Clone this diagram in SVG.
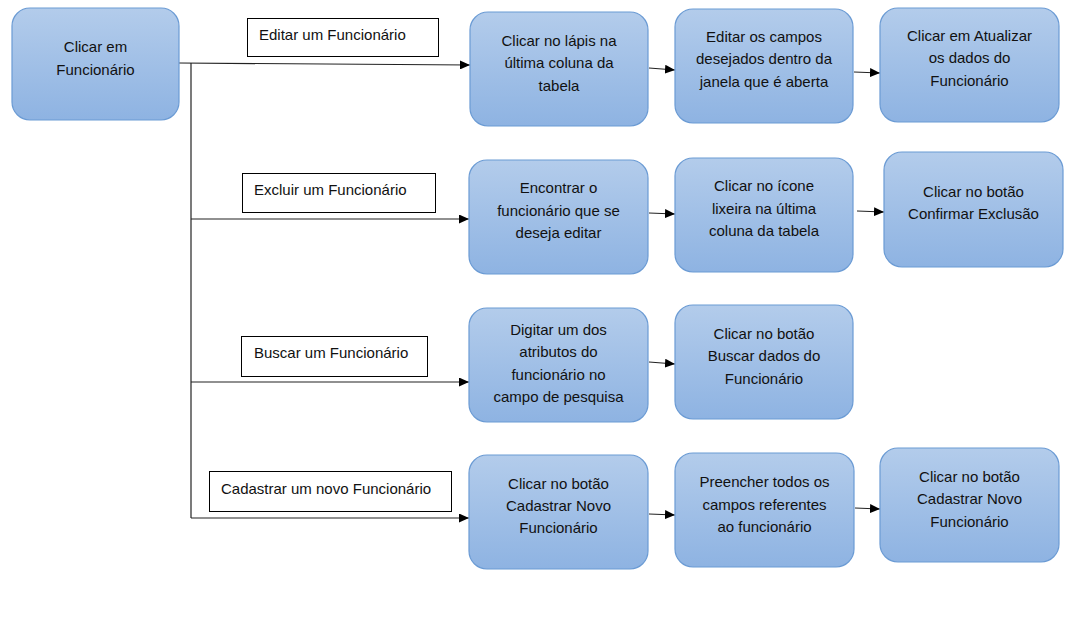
<svg xmlns="http://www.w3.org/2000/svg" width="1081" height="631" viewBox="0 0 1081 631">
<style>
.node rect{fill:url(#g);stroke:#6b9bd4;stroke-width:1.2}
.node text,.lbl text{font-family:"Liberation Sans",Arial,sans-serif;font-size:15px;fill:#111;text-anchor:middle}
.lbl rect{fill:#fff;stroke:#000;stroke-width:1}
.lbl text{text-anchor:start}
.c{stroke:#222;stroke-width:1.2;fill:none}
</style>
<defs>
<linearGradient id="g" x1="0" y1="0" x2="0" y2="1">
<stop offset="0" stop-color="#b3cceb"/>
<stop offset="1" stop-color="#8eb3e2"/>
</linearGradient>
<marker id="a" markerWidth="10" markerHeight="9" refX="10" refY="4.5" orient="auto" markerUnits="userSpaceOnUse">
<path d="M0,0 L10,4.5 L0,9 Z" fill="#000"/>
</marker>
</defs>
<rect width="1081" height="631" fill="#fff"/>
<g id="connectors">
<path class="c" d="M179,63 L470,65" marker-end="url(#a)"/>
<path class="c" d="M191,63 L191,518"/>
<path class="c" d="M191,219 L469,219" marker-end="url(#a)"/>
<path class="c" d="M191,382 L469,382" marker-end="url(#a)"/>
<path class="c" d="M191,518 L469,518" marker-end="url(#a)"/>
<path class="c" d="M649,68 L675,70" marker-end="url(#a)"/>
<path class="c" d="M854,72 L880,73" marker-end="url(#a)"/>
<path class="c" d="M649,213 L675,214" marker-end="url(#a)"/>
<path class="c" d="M857,211 L884,212" marker-end="url(#a)"/>
<path class="c" d="M649,362 L675,364" marker-end="url(#a)"/>
<path class="c" d="M649,514 L675,515" marker-end="url(#a)"/>
<path class="c" d="M855,508 L880,509" marker-end="url(#a)"/>
</g>
<g id="start" class="node"><rect x="12" y="8" width="167" height="112" rx="18"/><text x="95.5" y="52">Clicar em</text><text x="95.5" y="75">Funcionário</text></g>
<g id="lbl-editar" class="lbl"><rect x="247.5" y="18.5" width="191" height="38"/><text x="259" y="40">Editar um Funcionário</text></g>
<g id="lbl-excluir" class="lbl"><rect x="242.5" y="173.5" width="193" height="39"/><text x="254" y="195">Excluir um Funcionário</text></g>
<g id="lbl-buscar" class="lbl"><rect x="241.5" y="336.5" width="186" height="40"/><text x="254" y="358">Buscar um Funcionário</text></g>
<g id="lbl-cadastrar" class="lbl"><rect x="209.5" y="471.5" width="242" height="40"/><text x="221" y="494">Cadastrar um novo Funcionário</text></g>
<g id="e1" class="node"><rect x="470" y="12" width="178" height="114" rx="18"/><text x="559" y="46">Clicar no lápis na</text><text x="559" y="68">última coluna da</text><text x="559" y="91">tabela</text></g>
<g id="e2" class="node"><rect x="675" y="9" width="178" height="114" rx="18"/><text x="764" y="42">Editar os campos</text><text x="764" y="64">desejados dentro da</text><text x="764" y="87">janela que é aberta</text></g>
<g id="e3" class="node"><rect x="880" y="8" width="179" height="114" rx="18"/><text x="969.5" y="41">Clicar em Atualizar</text><text x="969.5" y="63">os dados do</text><text x="969.5" y="86">Funcionário</text></g>
<g id="x1" class="node"><rect x="469" y="160" width="179" height="114" rx="18"/><text x="558.5" y="193">Encontrar o</text><text x="558.5" y="216">funcionário que se</text><text x="558.5" y="238">deseja editar</text></g>
<g id="x2" class="node"><rect x="675" y="158" width="178" height="114" rx="18"/><text x="764" y="191">Clicar no ícone</text><text x="764" y="214">lixeira na última</text><text x="764" y="236">coluna da tabela</text></g>
<g id="x3" class="node"><rect x="884" y="152" width="179" height="115" rx="18"/><text x="973.5" y="197">Clicar no botão</text><text x="973.5" y="219">Confirmar Exclusão</text></g>
<g id="b1" class="node"><rect x="469" y="308" width="179" height="114" rx="18"/><text x="558.5" y="335">Digitar um dos</text><text x="558.5" y="357">atributos do</text><text x="558.5" y="380">funcionário no</text><text x="558.5" y="402">campo de pesquisa</text></g>
<g id="b2" class="node"><rect x="675" y="305" width="178" height="114" rx="18"/><text x="764" y="339">Clicar no botão</text><text x="764" y="361">Buscar dados do</text><text x="764" y="384">Funcionário</text></g>
<g id="c1" class="node"><rect x="469" y="455" width="179" height="114" rx="18"/><text x="558.5" y="489">Clicar no botão</text><text x="558.5" y="511">Cadastrar Novo</text><text x="558.5" y="533">Funcionário</text></g>
<g id="c2" class="node"><rect x="675" y="453" width="179" height="114" rx="18"/><text x="764.5" y="487">Preencher todos os</text><text x="764.5" y="510">campos referentes</text><text x="764.5" y="532">ao funcionário</text></g>
<g id="c3" class="node"><rect x="880" y="448" width="179" height="114" rx="18"/><text x="969.5" y="482">Clicar no botão</text><text x="969.5" y="504">Cadastrar Novo</text><text x="969.5" y="527">Funcionário</text></g>
</svg>
